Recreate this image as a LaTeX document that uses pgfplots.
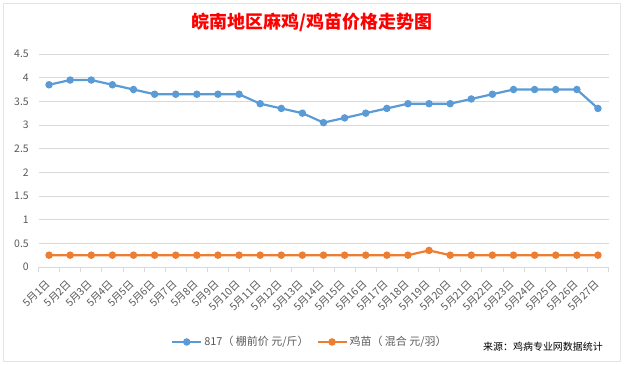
\documentclass[border=0pt]{standalone}
\usepackage{fontspec}
\setmainfont{Noto Sans CJK SC}
\usepackage{pgfplots}
\pgfplotsset{compat=1.18}
\definecolor{cblue}{RGB}{91,155,213}
\definecolor{corange}{RGB}{237,125,49}
\definecolor{tgray}{RGB}{89,89,89}
\definecolor{ggray}{RGB}{217,217,217}
\begin{document}
\begin{tikzpicture}[x=1bp,y=1bp]
\path[use as bounding box] (0,0) rectangle (626,364);
\draw[ggray!70] (3,3) rectangle (620,361);
\node[text=red,font=\bfseries\fontsize{18}{20}\selectfont] at (312,342) {皖南地区麻鸡/鸡苗价格走势图};
\begin{axis}[
  at={(38.5bp,97bp)}, anchor=south west,
  scale only axis, width=570bp, height=213bp,
  xmin=-0.5, xmax=26.5, ymin=0, ymax=4.5,
  ytick={0,0.5,...,4.5},
  yticklabels={0,0.5,1,1.5,2,2.5,3,3.5,4,4.5},
  ymajorgrids, grid style={ggray,line width=0.6pt},
  axis y line*=left, y axis line style={draw=none},
  axis x line*=bottom, x axis line style={ggray,line width=0.8pt},
  xtick={0,...,26},
  xticklabels={5月1日,5月2日,5月3日,5月4日,5月5日,5月6日,5月7日,5月8日,5月9日,5月10日,5月11日,5月12日,5月13日,5月14日,5月15日,5月16日,5月17日,5月18日,5月19日,5月20日,5月21日,5月22日,5月23日,5月24日,5月25日,5月26日,5月27日},
  x tick label style={rotate=45,anchor=east,font=\fontsize{10.5}{11}\selectfont,text=tgray,inner sep=1pt},
  xticklabel shift=10bp,
  y tick label style={font=\fontsize{10.5}{11}\selectfont,text=tgray,xshift=-2pt},
  major x tick style={draw=none},
  major y tick style={draw=none},
  minor xtick={-0.5,0.5,...,26.5},
  minor x tick style={ggray,line width=0.8pt},
  minor tick length=5bp,
  xtick pos=bottom, tickpos=left,
  tick align=outside,
  /pgf/number format/assume math mode=true,
  legend columns=2,
  legend style={at={(0.476,-0.352)},anchor=center,draw=none,fill=none,font=\fontsize{11}{12}\selectfont,text=tgray,/tikz/every even column/.append style={column sep=6bp}},
  legend image code/.code={\draw[#1,mark repeat=2,mark phase=2] plot coordinates {(0bp,0bp) (14.5bp,0bp) (29bp,0bp)};},
  clip=false,
]
\addplot[color=cblue,line width=2.2pt,mark=*,mark size=2.6pt] coordinates {
(0,3.85)(1,3.95)(2,3.95)(3,3.85)(4,3.75)(5,3.65)(6,3.65)(7,3.65)(8,3.65)(9,3.65)(10,3.45)(11,3.35)(12,3.25)(13,3.05)(14,3.15)(15,3.25)(16,3.35)(17,3.45)(18,3.45)(19,3.45)(20,3.55)(21,3.65)(22,3.75)(23,3.75)(24,3.75)(25,3.75)(26,3.35)};
\addlegendentry{817（ 棚前价 元/斤）}
\addplot[color=corange,line width=2.2pt,mark=*,mark size=2.6pt] coordinates {
(0,0.25)(1,0.25)(2,0.25)(3,0.25)(4,0.25)(5,0.25)(6,0.25)(7,0.25)(8,0.25)(9,0.25)(10,0.25)(11,0.25)(12,0.25)(13,0.25)(14,0.25)(15,0.25)(16,0.25)(17,0.25)(18,0.35)(19,0.25)(20,0.25)(21,0.25)(22,0.25)(23,0.25)(24,0.25)(25,0.25)(26,0.25)};
\addlegendentry{鸡苗（ 混合 元/羽）}
\end{axis}
\node[font=\fontsize{10}{11}\selectfont,text=black] at (543,17) {来源：鸡病专业网数据统计};
\end{tikzpicture}
\end{document}
